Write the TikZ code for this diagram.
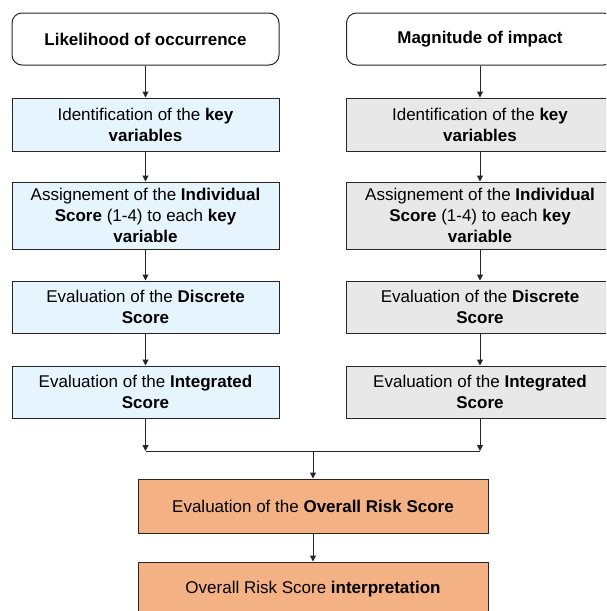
\documentclass[tikz,border=0pt]{standalone}
\usepackage{fontspec}
\setmainfont{Liberation Sans}
\usepackage{tikz}
\usetikzlibrary{arrows.meta}

\definecolor{lightblue}{HTML}{E6F4FD}
\definecolor{lightgrey}{HTML}{E8E8E8}
\definecolor{salmon}{HTML}{F4B183}
\definecolor{edge}{HTML}{262626}

\tikzset{
    basebox/.style={draw=edge, line width=1pt, minimum width=267pt, align=center,
        font=\fontsize{17}{21}\selectfont, inner sep=0pt},
    topbox/.style={basebox, rounded corners=10pt, fill=white, minimum height=52pt},
    bluebox/.style={basebox, fill=lightblue},
    greybox/.style={basebox, fill=lightgrey},
    orangebox/.style={basebox, fill=salmon, minimum width=350pt, minimum height=54pt},
    flow/.style={draw=edge, line width=1pt, -{Triangle[length=6pt,width=6pt]}}
}

\begin{document}
\begin{tikzpicture}[x=1pt,y=1pt]
            \useasboundingbox (0,0) rectangle (606,-611);
            \clip (0,0) rectangle (606,-611);

            % Left column
            \node[topbox] (likely) at (145.5,-39) {\textbf{Likelihood of occurrence}};
            \node[bluebox, minimum height=53pt] (idL) at (145.5,-124.5) {Identification of the \textbf{key}\\\textbf{variables}};
            \node[bluebox, minimum height=67pt] (assL) at (145.5,-215.5) {Assignement of the \textbf{Individual}\\\textbf{Score} (1-4) to each \textbf{key}\\\textbf{variable}};
            \node[bluebox, minimum height=52pt] (discL) at (145.5,-307) {Evaluation of the \textbf{Discrete}\\\textbf{Score}};
            \node[bluebox, minimum height=52pt] (intL) at (145.5,-392) {Evaluation of the \textbf{Integrated}\\\textbf{Score}};

            % Right column
            \node[topbox] (magn) at (480,-39) {\textbf{Magnitude of impact}};
            \node[greybox, minimum height=53pt] (idR) at (480,-124.5) {Identification of the \textbf{key}\\\textbf{variables}};
            \node[greybox, minimum height=67pt] (assR) at (480,-215.5) {Assignement of the \textbf{Individual}\\\textbf{Score} (1-4) to each \textbf{key}\\\textbf{variable}};
            \node[greybox, minimum height=52pt] (discR) at (480,-307) {Evaluation of the \textbf{Discrete}\\\textbf{Score}};
            \node[greybox, minimum height=52pt] (intR) at (480,-392) {Evaluation of the \textbf{Integrated}\\\textbf{Score}};

            % Overall score
            \node[orangebox] (overall) at (313,-506) {Evaluation of the \textbf{Overall Risk Score}};
            \node[orangebox] (interp) at (313,-589) {Overall Risk Score \textbf{interpretation}};

            \coordinate (joinL) at (145.5,-451);
            \coordinate (joinR) at (480,-451);
            \coordinate (joinM) at (313,-451);

            \draw[flow] (likely) -- (idL);
            \draw[flow] (idL) -- (assL);
            \draw[flow] (assL) -- (discL);
            \draw[flow] (discL) -- (intL);
            \draw[flow] (intL) -- (joinL);

            \draw[flow] (magn) -- (idR);
            \draw[flow] (idR) -- (assR);
            \draw[flow] (assR) -- (discR);
            \draw[flow] (discR) -- (intR);
            \draw[flow] (intR) -- (joinR);

            \draw[draw=edge, line width=1pt] (joinL) -- (joinR);  % Junction
            \draw[flow] (joinM) -- (overall);
            \draw[flow] (overall) -- (interp);

        \end{tikzpicture}
\end{document}
